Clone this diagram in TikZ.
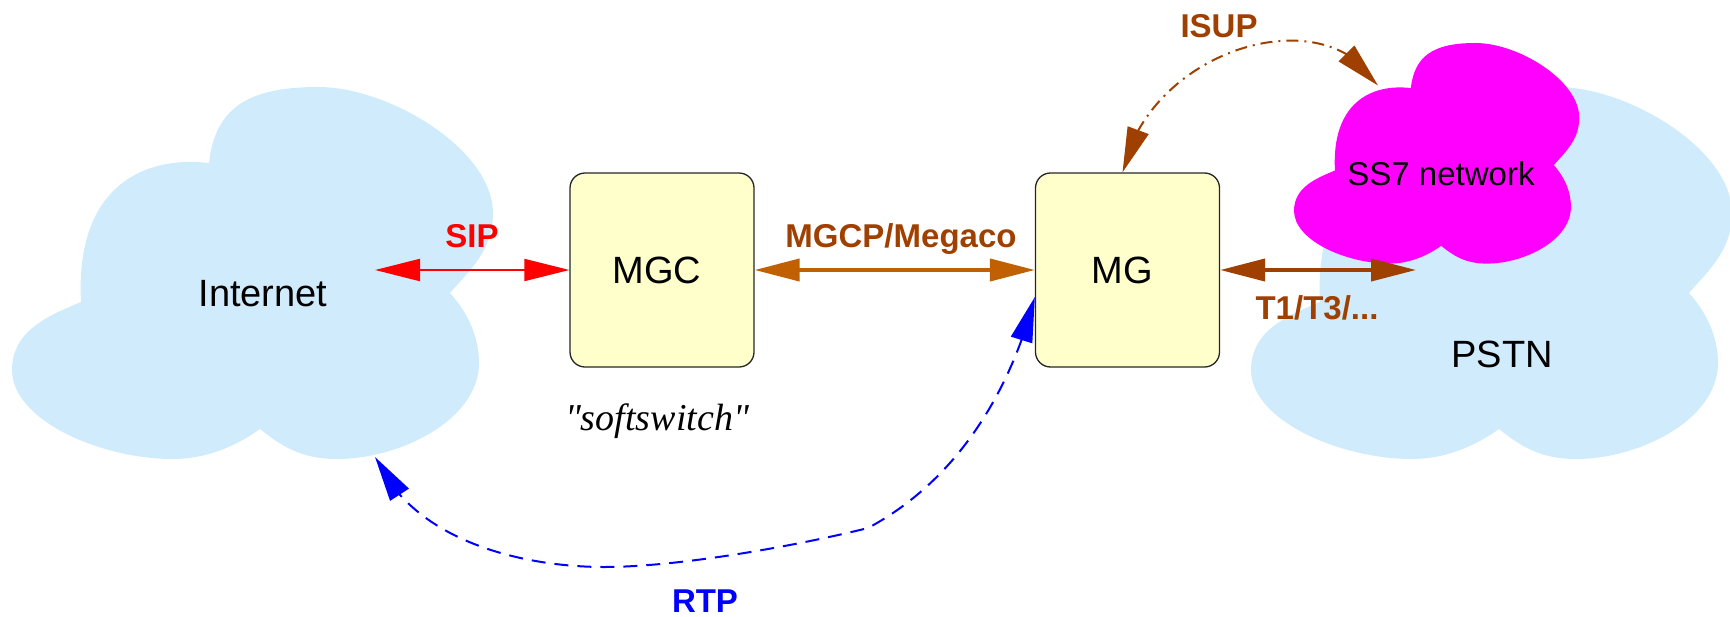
\documentclass[tikz,border=0pt]{standalone}
\usepackage{fontspec}
\setmainfont{Liberation Sans}
\newfontfamily\serifit{Liberation Serif}
\usetikzlibrary{arrows.meta,bending}
\definecolor{cloudblue}{RGB}{208,236,252}
\definecolor{boxyellow}{RGB}{255,255,204}
\definecolor{mgcparrow}{RGB}{192,96,0}
\definecolor{darkbrown}{RGB}{160,64,0}
\definecolor{ssmagenta}{RGB}{255,0,255}
\newcommand{\cloudshape}{(81,302) .. controls (75,190) and (140,155) .. (209,163)
 .. controls (215,110) and (245,87) .. (318,87)
 .. controls (390,87) and (493,150) .. (493,213)
 .. controls (493,250) and (470,270) .. (450,293)
 .. controls (470,315) and (479,340) .. (479,363)
 .. controls (479,420) and (400,459) .. (337,459)
 .. controls (300,459) and (280,445) .. (260,429)
 .. controls (235,447) and (205,459) .. (173,459)
 .. controls (100,459) and (12,420) .. (12,370)
 .. controls (12,330) and (50,315) .. (81,302) -- cycle}
\tikzset{
  bigtxt/.style={font=\fontsize{38pt}{38pt}\selectfont, inner sep=0pt},
  proto/.style={font=\bfseries\fontsize{33pt}{33pt}\selectfont, inner sep=0pt, anchor=base},
  gbox/.style={draw=black!85, line width=1.3pt, fill=boxyellow, rounded corners=15pt,
    minimum width=184pt, minimum height=194pt, inner sep=0pt,
    font=\fontsize{38pt}{38pt}\selectfont},
  sipline/.style={red, line width=2pt, <->},
  mgcpline/.style={mgcparrow, line width=4pt, <->},
  t1line/.style={darkbrown, line width=4pt, <->},
  isupline/.style={darkbrown, line width=2pt, <->, dash pattern=on 12pt off 6pt on 2pt off 6pt},
  rtpline/.style={blue, line width=2pt, <->, dash pattern=on 14pt off 9pt}
}
\begin{document}
\begin{tikzpicture}[x=1pt,y=-1pt, >={Triangle[length=45pt,width=22pt]}]
\useasboundingbox (0,0) rectangle (1730,616);
% clouds
\begin{scope}[xshift=1239pt]
  \fill[cloudblue] \cloudshape;
\end{scope}
\begin{scope}[shift={(1286.9,-8.6)}, scale=0.593]
  \fill[ssmagenta] \cloudshape;
\end{scope}
\fill[cloudblue] \cloudshape;
% cloud labels
\node[bigtxt] (Internet) at (263,294) {Internet};
\node[bigtxt] (PSTN) at (1502,354) {PSTN};
\node[font=\fontsize{33pt}{33pt}\selectfont, inner sep=0pt, anchor=base] (SS7) at (1441,185) {SS7 network};
% boxes
\node[gbox] (MGC) at (662,270) {\hspace*{-10pt}MGC};
\node[gbox] (MG) at (1127.5,270) {\hspace*{-10pt}MG};
\node[font=\serifit\itshape\fontsize{38pt}{38pt}\selectfont, inner sep=0pt, anchor=base] (soft) at (657,430) {"softswitch"};
% connector end points
\coordinate (sipL) at (375,270);
\coordinate (t1R) at (1416,270);
\coordinate (rtpA) at ([yshift=-27pt]MG.west);
\coordinate (rtpB) at (375,457);
\coordinate (isupA) at ([xshift=-5pt]MG.north);
\coordinate (isupB) at (1378,85.5);
% connectors
\draw[sipline] (sipL) -- (MGC.west);
\draw[mgcpline] (MGC.east) -- (MG.west);
\draw[t1line] (MG.east) -- (t1R);
\draw[isupline] (isupA) .. controls (1148,50) and (1325,-5) .. (isupB);
\draw[rtpline] (rtpA) .. controls (1010,393) and (956,481) .. (868,528)
  .. controls (800,545) and (680,567) .. (604,567)
  .. controls (530,567) and (415,545) .. (rtpB);
% labels
\node[proto, red] (sipL2) at (472,247) {SIP};
\node[proto, darkbrown] (mgcpL) at (901,247) {MGCP/Megaco};
\node[proto, darkbrown] (t1L) at (1317,319) {T1/T3/...};
\node[proto, darkbrown] (isupL) at (1219,37) {ISUP};
\node[proto, blue] (rtpL) at (705,612) {RTP};
\end{tikzpicture}
\end{document}
